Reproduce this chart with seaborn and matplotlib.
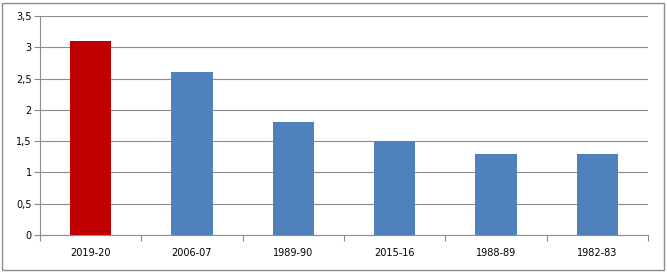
import matplotlib
matplotlib.use("Agg")
import matplotlib.pyplot as plt
import seaborn as sns
import pandas as pd
import numpy as np
from matplotlib.patches import Rectangle

categories = ["2019-20", "2006-07", "1989-90", "2015-16", "1988-89", "1982-83"]
values = [3.1, 2.6, 1.8, 1.5, 1.3, 1.3]
colors = ["#C00000", "#4F81BD", "#4F81BD", "#4F81BD", "#4F81BD", "#4F81BD"]
yticks = [0, 0.5, 1, 1.5, 2, 2.5, 3, 3.5]
ytick_labels = ["0", "0,5", "1", "1,5", "2", "2,5", "3", "3,5"]

sns.set_style("white")
plt.rcParams['font.family'] = ['DejaVu Sans']

df = pd.DataFrame({"cat": categories, "val": values})
fig = plt.figure(figsize=(6.67, 2.72), dpi=100)
ax = fig.add_axes([40/667, 1-235/272, 608/667, 219/272])
sns.barplot(data=df, x="cat", y="val", hue="cat", palette=colors, width=0.41,
            legend=False, ax=ax, saturation=1, linewidth=0, edgecolor="none")

ax.set_ylim(0, 3.5)
ax.set_xlim(-0.5, len(categories)-0.5)
ax.set_yticks(yticks)
ax.set_yticklabels(ytick_labels, fontsize=7, color="black")
ax.yaxis.grid(True, color="#8c8c8c", linewidth=0.8)
ax.set_axisbelow(True)
ax.set_xlabel("")
ax.set_ylabel("")
ax.set_xticks(range(len(categories)))
ax.set_xticklabels(categories, fontsize=7, color="black")
ax.tick_params(axis="x", which="major", length=0, pad=9)
ax.set_xticks(np.arange(-0.5, len(categories), 1), minor=True)
ax.tick_params(axis="x", which="minor", length=4, color="#8c8c8c", width=0.8, direction="out", bottom=True)
ax.tick_params(axis="y", length=4, color="#8c8c8c", width=0.8, direction="out", left=True, pad=2)
for s in ["top", "right"]:
    ax.spines[s].set_visible(False)
for s in ["left", "bottom"]:
    ax.spines[s].set_color("#8c8c8c")
    ax.spines[s].set_linewidth(0.8)

fig.patches.append(Rectangle((2/667, 2/272), 662/667, 267/272, transform=fig.transFigure,
                             fill=False, edgecolor="#8c8c8c", linewidth=1))
fig.savefig("out.png", dpi=100)
